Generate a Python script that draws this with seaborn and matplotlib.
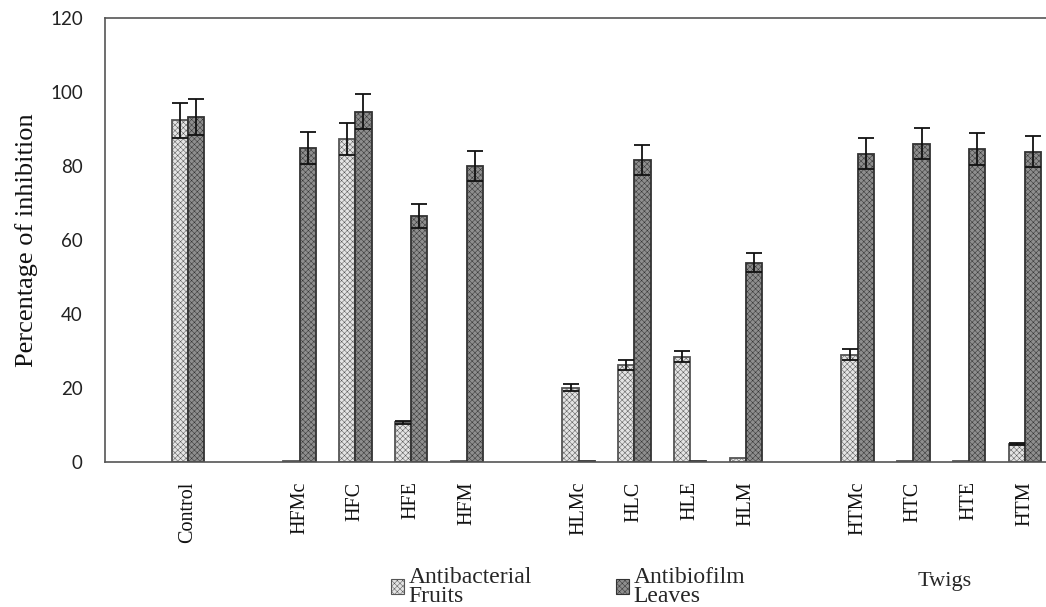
import pandas as pd
import matplotlib
matplotlib.use("Agg")
import matplotlib.pyplot as plt
import seaborn as sns
from matplotlib.patches import Patch

# values
categories = ['Control', 'HFMc', 'HFC', 'HFE', 'HFM',
              'HLMc', 'HLC', 'HLE', 'HLM',
              'HTMc', 'HTC', 'HTE', 'HTM']
antibacterial = [92.4, 0.3, 87.2, 10.7, 0.3, 20.1, 26.2, 28.5, 1.0, 29.0, 0.3, 0.3, 4.9]
antibacterial_err = [4.7, 0, 4.3, 0.5, 0, 0.9, 1.3, 1.5, 0, 1.5, 0, 0, 0.3]
antibiofilm = [93.3, 84.8, 94.7, 66.5, 80.0, 0.3, 81.6, 0.3, 53.9, 83.3, 86.0, 84.6, 83.9]
antibiofilm_err = [4.8, 4.3, 4.7, 3.2, 4.1, 0, 4.0, 0, 2.5, 4.2, 4.2, 4.2, 4.2]

# blank slots separate the groups on the x axis
order = ['Control', ' ', 'HFMc', 'HFC', 'HFE', 'HFM', '  ',
         'HLMc', 'HLC', 'HLE', 'HLM', '   ', 'HTMc', 'HTC', 'HTE', 'HTM']
assays = ['Antibacterial', 'Antibiofilm']

df = pd.concat([
    pd.DataFrame({'Sample': categories, 'Inhibition': antibacterial,
                  'Err': antibacterial_err, 'Assay': assays[0]}),
    pd.DataFrame({'Sample': categories, 'Inhibition': antibiofilm,
                  'Err': antibiofilm_err, 'Assay': assays[1]}),
])

sns.set_style("white")
plt.rcParams['hatch.linewidth'] = 0.35

light, dark = '#e4e4e4', '#8e8e8e'
edge_light, edge_dark = '#555555', '#333333'
hatch = 'xxxxxx'

fig = plt.figure(figsize=(10.46, 6.07), dpi=100)
ax = fig.add_axes([105 / 1046, 1 - 462 / 607, 1 - 105 / 1046, (462 - 18) / 607])

sns.barplot(data=df, x='Sample', y='Inhibition', hue='Assay', order=order,
            hue_order=assays, palette=[light, dark], width=0.58,
            errorbar=None, legend=False, linewidth=1.3, ax=ax)

# hatching and error bars per series
for cont, assay, ec in zip(ax.containers, assays, [edge_light, edge_dark]):
    sub = df[df['Assay'] == assay].set_index('Sample')
    xs, ys, es = [], [], []
    for bar in cont:
        bar.set_edgecolor(ec)
        bar.set_hatch(hatch)
        cx = bar.get_x() + bar.get_width() / 2
        name = order[int(round(cx))]
        err = sub.loc[name, 'Err']
        if err > 0:
            xs.append(cx)
            ys.append(bar.get_height())
            es.append(err)
    ax.errorbar(xs, ys, yerr=es, fmt='none', ecolor='#111111', elinewidth=1.3,
                capsize=5.5, capthick=1.3, zorder=5)

ax.set_ylim(0, 120)
ax.set_yticks(range(0, 121, 20))
ax.set_xlim(-1.487, 15.376)

for side in ['left', 'top', 'bottom']:
    ax.spines[side].set_color('#555555')
    ax.spines[side].set_linewidth(1.2)
ax.spines['right'].set_visible(False)

ax.set_xlabel('')
ax.set_ylabel('Percentage of inhibition', family='Liberation Serif',
              fontsize=19, labelpad=9, color='#111111')

ax.tick_params(axis='x', length=0, pad=14)
ax.tick_params(axis='y', length=0, pad=16)
for lbl in ax.get_xticklabels():
    lbl.set_rotation(90)
    lbl.set_family('Liberation Serif')
    lbl.set_fontsize(14.5)
    lbl.set_color('#111111')
for lbl in ax.get_yticklabels():
    lbl.set_family('Lato')
    lbl.set_fontsize(13.5)
    lbl.set_color('#222222')

handles = [Patch(facecolor=light, edgecolor=edge_light, hatch=hatch, linewidth=0.8),
           Patch(facecolor=dark, edgecolor=edge_dark, hatch=hatch, linewidth=0.8)]
leg = fig.legend(handles, ['Antibacterial\nFruits', 'Antibiofilm\nLeaves'],
                 loc='upper left', bbox_to_anchor=(391 / 1046, 1 - 567 / 607),
                 ncol=2, frameon=False,
                 prop={'family': 'Liberation Serif', 'size': 17},
                 handlelength=0.55, handleheight=0.55, handletextpad=0.2,
                 columnspacing=3.55, borderpad=0, borderaxespad=0)
for t in leg.get_texts():
    t.set_linespacing(0.85)
fig.text(918 / 1046, 1 - 586 / 607, 'Twigs', family='Liberation Serif',
         fontsize=16, va='baseline', ha='left')

fig.savefig('out.png', dpi=100)
